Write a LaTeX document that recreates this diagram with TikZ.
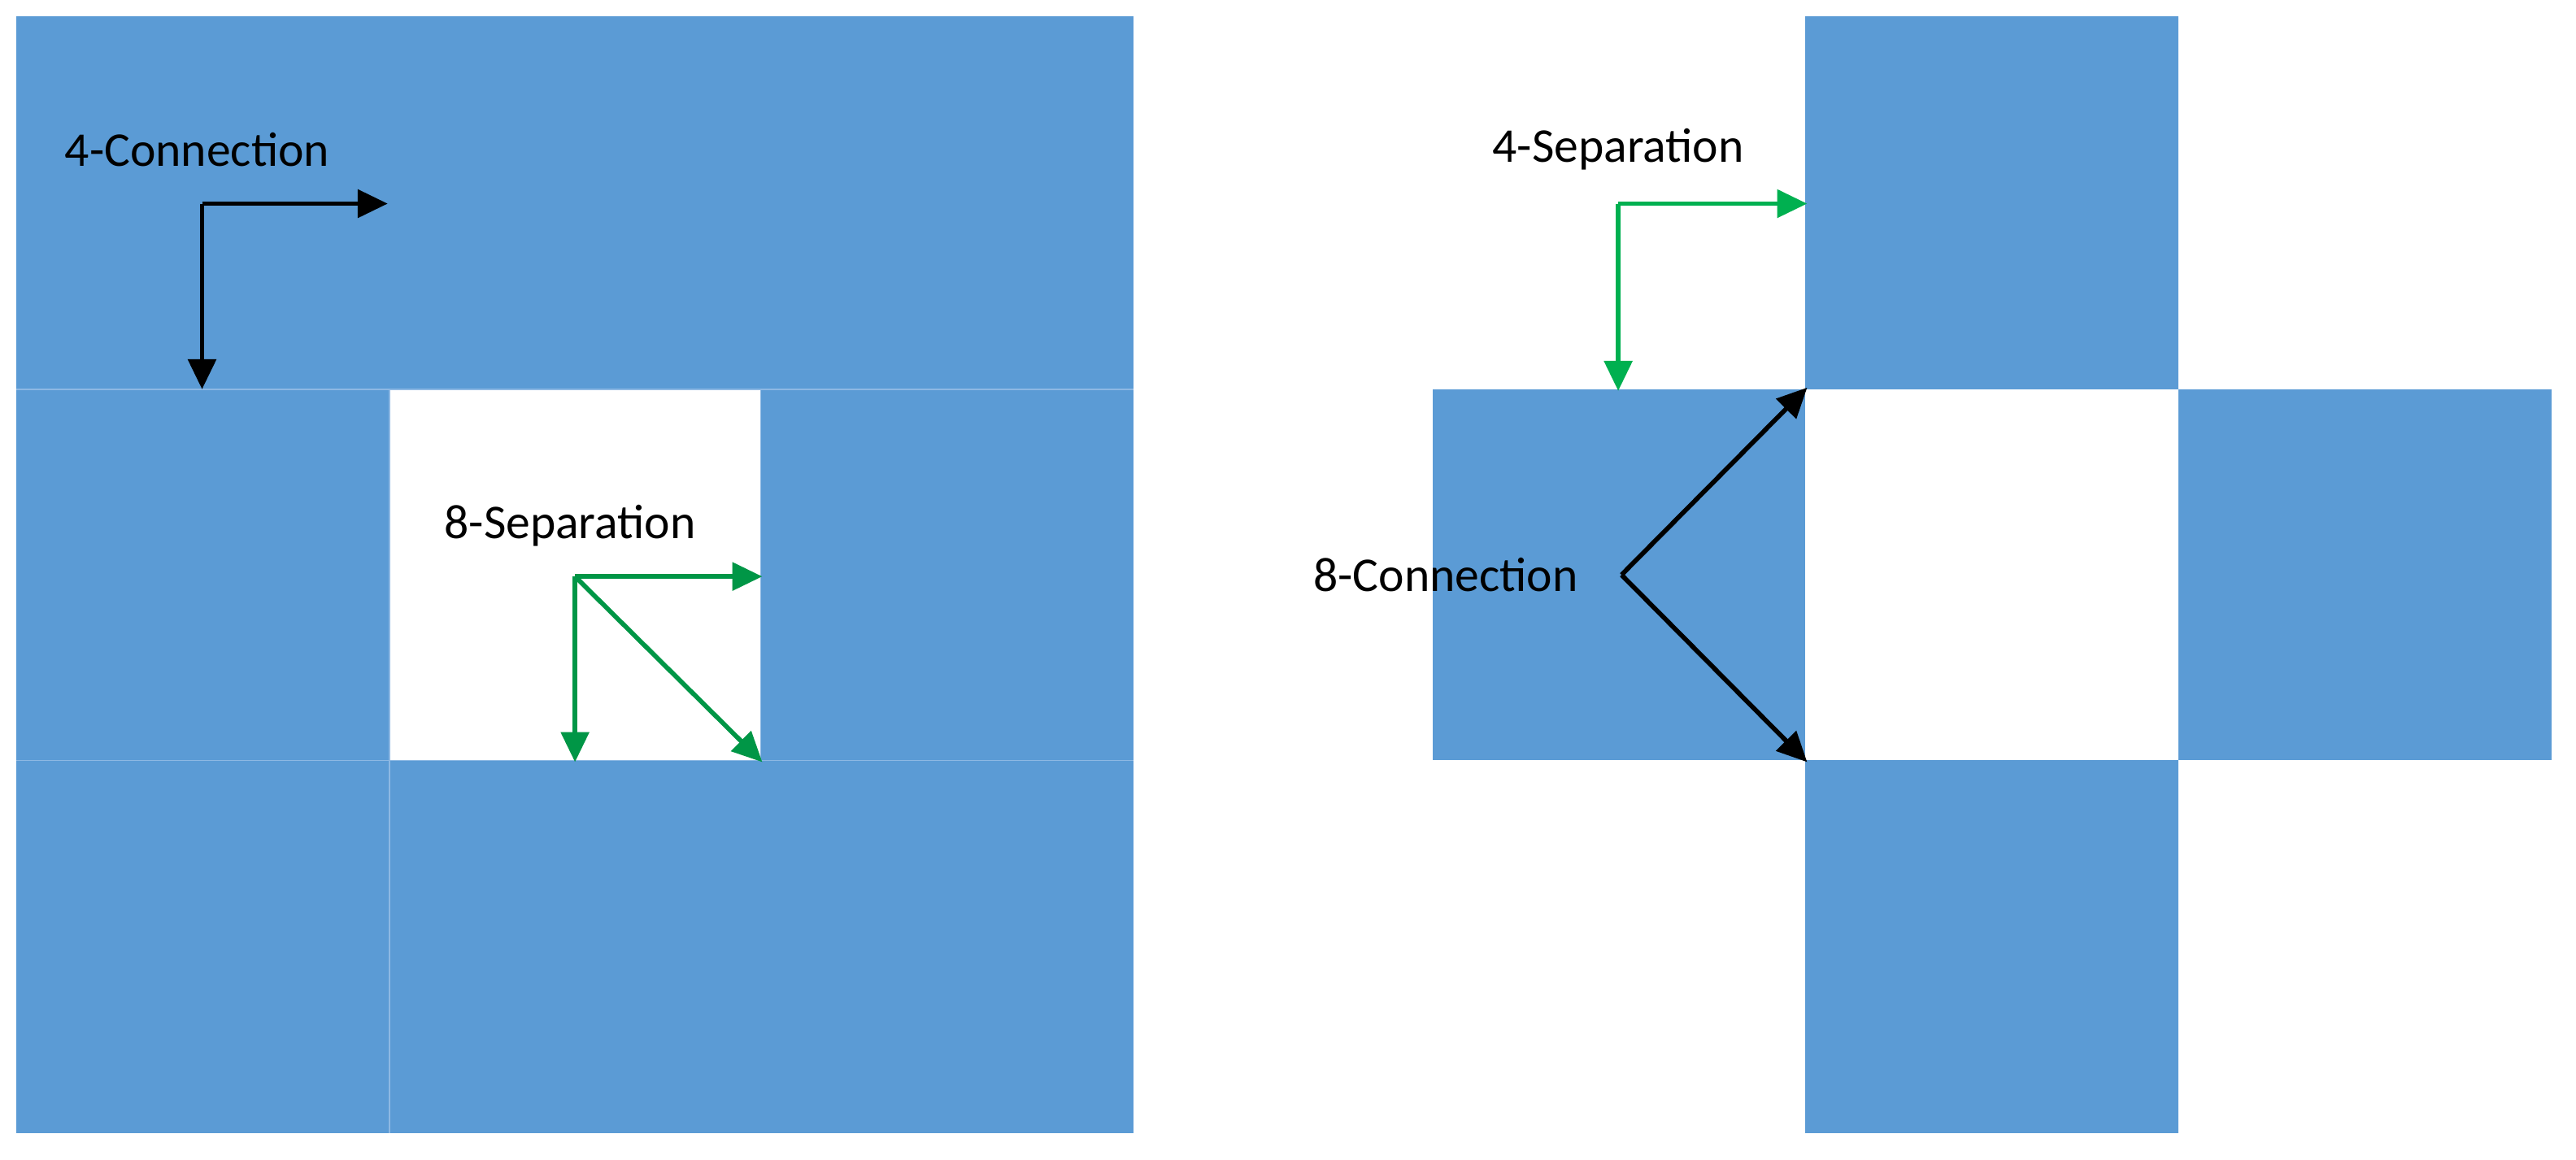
\documentclass[tikz,border=0pt]{standalone}
\usepackage{fontspec}
\setmainfont{Carlito}
\usetikzlibrary{arrows.meta}
\definecolor{cellblue}{HTML}{5B9BD5}
\definecolor{gridline}{HTML}{8DB8E3}
\definecolor{dgreen}{RGB}{0,150,70}
\definecolor{bgreen}{RGB}{0,176,80}
\begin{document}
\begin{tikzpicture}[x=0.05cm,y=-0.05cm,
  cell/.style={fill=cellblue,draw=none},
  arr/.style={line width=4pt,-{Triangle[length=26pt,width=24pt]}},
  lbl/.style={font=\fontsize{42}{50}\selectfont,inner sep=0pt}]
\useasboundingbox (0,0) rectangle (1568,706);
% left grid
\fill[cellblue] (10,10) rectangle (690,690);
\fill[white] (237,237) rectangle (463,463);
\draw[gridline,line width=1pt] (10,237) -- (690,237) (10,463) -- (690,463)
  (237,237) -- (237,690) (463,237) -- (463,463);
% right cross
\fill[cellblue] (1099,10) rectangle (1326,237);
\fill[cellblue] (872,237) rectangle (1099,463);
\fill[cellblue] (1326,237) rectangle (1553,463);
\fill[cellblue] (1099,463) rectangle (1326,690);
% labels
\node[lbl] (c4) at (120,91) {4-Connection};
\node[lbl] (s8) at (347,320) {8-Separation};
\node[lbl] (s4) at (985,91) {4-Separation};
\node[lbl] (c8) at (880,350) {8-Connection};
% coordinates
\coordinate (a0) at (123,124); \coordinate (a1) at (236,124); \coordinate (a2) at (123,237);
\coordinate (b0) at (350,351); \coordinate (b1) at (464,351); \coordinate (b2) at (350,464); \coordinate (b3) at (464,464);
\coordinate (g0) at (985,124); \coordinate (g1) at (1100,124); \coordinate (g2) at (985,238);
\coordinate (k0) at (987,350); \coordinate (k1) at (1100,236); \coordinate (k2) at (1100,464);
% arrows
\draw[arr,black] (a0) -- (a1); \draw[arr,black] (a0) -- (a2);
\draw[arr,dgreen] (b0) -- (b1); \draw[arr,dgreen] (b0) -- (b2); \draw[arr,dgreen] (b0) -- (b3);
\draw[arr,bgreen] (g0) -- (g1); \draw[arr,bgreen] (g0) -- (g2);
\draw[arr,black] (k0) -- (k1); \draw[arr,black] (k0) -- (k2);
\end{tikzpicture}
\end{document}
